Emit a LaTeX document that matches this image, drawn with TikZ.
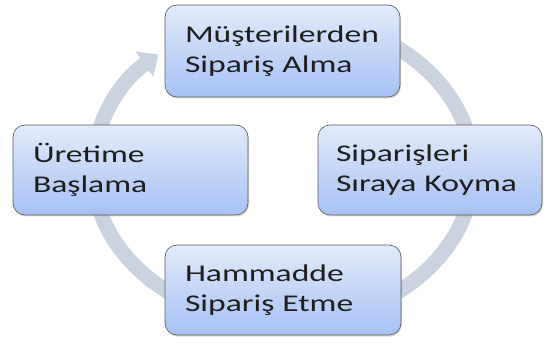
\documentclass[tikz,border=0pt]{standalone}
\usepackage{fontspec}
\setmainfont[FakeStretch=1.4]{Carlito}
\usetikzlibrary{arrows.meta,shadows}
\definecolor{ringcol}{HTML}{CCD3E0}
\definecolor{boxtop}{HTML}{E2EBFB}
\definecolor{boxbot}{HTML}{A6C1F4}
\definecolor{boxline}{HTML}{5A5A5A}
\definecolor{txt}{HTML}{1E1E1E}
\begin{document}
\begin{tikzpicture}[x=1pt,y=1pt,
  stage/.style={draw=boxline, line width=0.6pt, rounded corners=12pt,
    top color=boxtop, bottom color=boxbot, minimum height=90pt,
    inner xsep=20pt, inner ysep=0pt, align=left, text=txt,
    font=\fontsize{24}{30}\selectfont,
    drop shadow={shadow xshift=1pt, shadow yshift=-1.5pt, opacity=0.3}},
  link/.style={draw=ringcol, line width=15pt},
  ell/.style={x radius=190pt, y radius=153pt}]
\useasboundingbox (0,0) rectangle (546,343);
\coordinate (ringc) at (283,173);
% ring arcs (drawn before boxes so they pass beneath them)
\draw[link] (ringc) ++(126:190pt and 153pt) coordinate (a1)
  arc[ell, start angle=126, end angle=-2] coordinate (a2);
\draw[link] (a2) arc[ell, start angle=-2, end angle=-92] coordinate (a3);
\draw[link] (a3) arc[ell, start angle=-92, end angle=-182] coordinate (a4);
\draw[link, -{Triangle[width=30pt,length=17pt]}] (a4)
  arc[ell, start angle=178, end angle=131] coordinate (a5);
% boxes
\node[stage, minimum width=235pt, text width=195pt, minimum height=92pt] (order) at (282.5,292) {Müşterilerden\\Sipariş Alma};
\node[stage, minimum width=224pt, text width=188pt, inner xsep=18pt] (queue) at (430,173) {Siparişleri\\Sıraya Koyma};
\node[stage, minimum width=236pt, text width=196pt] (raw) at (283,53) {Hammadde\\Sipariş Etme};
\node[stage, minimum width=235pt, text width=195pt] (start) at (130.5,173) {Üretime\\Başlama};
\end{tikzpicture}
\end{document}
